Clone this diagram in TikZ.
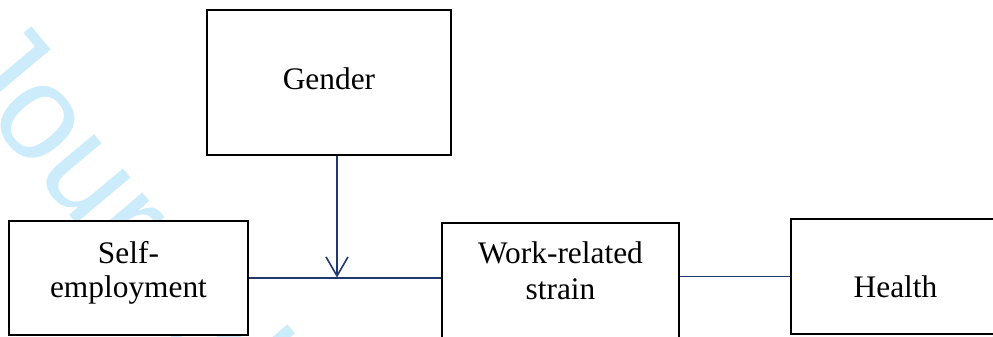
\documentclass[tikz,border=0pt]{standalone}
\usepackage{fontspec}
\setmainfont{Liberation Serif}
\newfontfamily\wmfont{Liberation Sans}
\usetikzlibrary{arrows.meta}
\definecolor{linkblue}{RGB}{31,56,110}
\definecolor{wmcyan}{RGB}{204,236,252}
\tikzset{
  box/.style={draw=black, line width=2bp, fill=white, rectangle, inner sep=0pt},
  txt/.style={font=\fontsize{31.5}{36}\selectfont, inner sep=0pt, anchor=base},
  link/.style={draw=linkblue, line width=1.4bp},
}
\begin{document}
\begin{tikzpicture}[x=1bp,y=1bp]
\useasboundingbox (0,0) rectangle (993,336);
\begin{scope}
\clip (0,0) rectangle (993,336);
% watermark
\node[font=\wmfont\fontsize{135}{135}\selectfont, text=wmcyan, rotate=-50, anchor=base west, inner sep=0pt] (wm) at (-57,271) {Journal};
% boxes
\node[box, minimum width=244bp, minimum height=145bp] (gender) at (329,253.5) {};
\node[box, minimum width=239bp, minimum height=114bp] (self) at (128.5,58) {};
\node[box, minimum width=237bp, minimum height=122bp] (work) at (560.5,52) {};
\node[box, minimum width=209bp, minimum height=115bp] (health) at (895.5,59.5) {};
\end{scope}
% texts
\node[txt] (tgender) at (329,247) {Gender};
\node[txt] (tself1) at (128.5,73) {Self-};
\node[txt] (tself2) at (128.5,39) {employment};
\node[txt] (twork1) at (560.5,73) {Work-related};
\node[txt] (twork2) at (560.5,36.5) {strain};
\node[txt] (thealth) at (895.5,39) {Health};
% connectors
\coordinate (m) at (337,57);
\draw[link] (self.east) -- (work.west |- self.east);
\draw[link] (work.east |- health.west) -- (health.west);
\draw[link, -{Straight Barb[length=19bp, width=22bp, line width=1.6bp]}, shorten >=1.5bp] (gender.south -| m) -- (m);
\end{tikzpicture}
\end{document}
